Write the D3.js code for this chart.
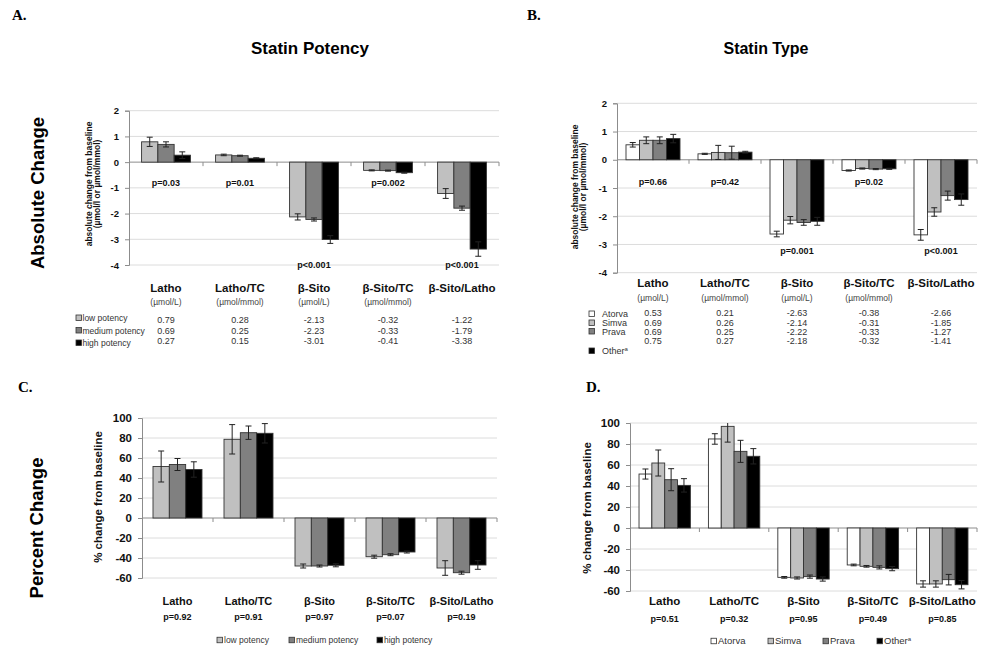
<!DOCTYPE html>
<html>
<head>
<script src="https://d3js.org/d3.v7.min.js"></script>
<style>
  body { margin: 0; background: #fff; }
  svg { font-family: "Liberation Sans", Arial, sans-serif; }
</style>
</head>
<body>
<div id="fig"></div>
<script>
// ---- data ----
const categories = ["Latho", "Latho/TC", "β-Sito", "β-Sito/TC", "β-Sito/Latho"];
const units = ["(µmol/L)", "(µmol/mmol)", "(µmol/L)", "(µmol/mmol)", ""];
const yTicksAbs = [-4, -3, -2, -1, 0, 1, 2];
const yTicksPct = [-60, -40, -20, 0, 20, 40, 60, 80, 100];

const potencyGroups = ["low potency", "medium potency", "high potency"];
const potencyColors = ["#c0c0c0", "#808080", "#000000"];
const typeGroups = ["Atorva", "Simva", "Prava", "Other"];
const typeColors = ["#ffffff", "#c0c0c0", "#808080", "#000000"];

// A. absolute change, statin potency (rows = group, columns = category)
const absPotency = [
  [0.79, 0.28, -2.13, -0.32, -1.22],
  [0.69, 0.25, -2.23, -0.33, -1.79],
  [0.27, 0.15, -3.01, -0.41, -3.38]
];
const absPotencyErr = [
  [0.18, 0.03, 0.12, 0.02, 0.19],
  [0.10, 0.02, 0.06, 0.02, 0.08],
  [0.13, 0.02, 0.15, 0.02, 0.28]
];
const absPotencyP = ["p=0.03", "p=0.01", "p<0.001", "p=0.002", "p<0.001"];

// B. absolute change, statin type
const absType = [
  [0.53, 0.21, -2.63, -0.38, -2.66],
  [0.69, 0.26, -2.14, -0.31, -1.85],
  [0.69, 0.25, -2.22, -0.33, -1.27],
  [0.75, 0.27, -2.18, -0.32, -1.41]
];
const absTypeErr = [
  [0.08, 0.02, 0.10, 0.02, 0.19],
  [0.12, 0.25, 0.13, 0.02, 0.15],
  [0.12, 0.23, 0.10, 0.02, 0.16],
  [0.15, 0.03, 0.14, 0.02, 0.20]
];
const absTypeP = ["p=0.66", "p=0.42", "p=0.001", "p=0.02", "p<0.001"];

// C. percent change, statin potency
const pctPotency = [
  [51.5, 78.7, -48.0, -38.7, -50.0],
  [53.5, 85.3, -48.0, -36.7, -54.7],
  [48.5, 84.7, -47.3, -34.0, -47.0]
];
const pctPotencyErr = [
  [15.5, 14.7, 2.0, 1.5, 7.3],
  [6.0, 6.7, 1.0, 1.0, 1.5],
  [7.7, 9.7, 1.5, 1.0, 4.3]
];
const pctPotencyP = ["p=0.92", "p=0.91", "p=0.97", "p=0.07", "p=0.19"];

// D. percent change, statin type
const pctType = [
  [51.4, 84.8, -47.0, -35.2, -53.3],
  [61.9, 96.8, -47.6, -36.5, -53.3],
  [46.0, 73.0, -46.3, -37.5, -49.2],
  [40.6, 68.3, -48.6, -38.7, -54.0]
];
const pctTypeErr = [
  [4.8, 5.0, 0.8, 0.8, 3.0],
  [12.4, 15.0, 1.0, 0.8, 3.0],
  [10.5, 10.5, 1.5, 1.5, 5.0],
  [6.4, 7.3, 2.0, 2.0, 4.0]
];
const pctTypeP = ["p=0.51", "p=0.32", "p=0.95", "p=0.49", "p=0.85"];

// ---- drawing ----
const svg = d3.select("#fig").append("svg")
  .attr("width", 981)
  .attr("height", 651);

function drawPanel(o) {
  const g = svg.append("g");
  const x = d3.scaleBand().domain(categories).range([o.left, o.right])
    .paddingInner(o.pad).paddingOuter(o.pad / 2);
  const xs = d3.scaleBand().domain(o.groups).range([0, x.bandwidth()]);
  const y = d3.scaleLinear().domain(o.domain).range([o.bottom, o.top]);

  // gridlines
  g.selectAll("line.grid").data(o.ticks.filter(t => t !== 0)).join("line")
    .attr("class", "grid")
    .attr("x1", o.left).attr("x2", o.right)
    .attr("y1", d => y(d)).attr("y2", d => y(d))
    .attr("stroke", "#dcdcdc");

  // y axis
  const ya = g.append("g")
    .attr("transform", `translate(${o.left},0)`)
    .call(d3.axisLeft(y).tickValues(o.ticks).tickSize(4).tickPadding(o.tickPad).tickFormat(d => d));
  ya.attr("font-family", null);
  ya.select(".domain").attr("stroke", "#8c8c8c");
  ya.selectAll(".tick line").attr("stroke", "#8c8c8c");
  ya.selectAll(".tick text")
    .attr("font-size", o.tickFont)
    .attr("font-weight", "bold")
    .attr("fill", "#111");

  // zero line with small ticks between categories
  g.append("line")
    .attr("x1", o.left).attr("x2", o.right)
    .attr("y1", y(0)).attr("y2", y(0))
    .attr("stroke", "#8c8c8c");
  g.selectAll("line.xtick").data(d3.range(1, categories.length + 1)).join("line")
    .attr("class", "xtick")
    .attr("x1", i => o.left + i * x.step()).attr("x2", i => o.left + i * x.step())
    .attr("y1", y(0)).attr("y2", y(0) + 4)
    .attr("stroke", "#8c8c8c");

  // bars
  const cells = [];
  o.values.forEach((row, gi) => row.forEach((v, ci) => cells.push({
    cat: categories[ci], grp: o.groups[gi], v: v, e: o.errs[gi][ci], c: o.colors[gi]
  })));

  g.selectAll("rect.bar").data(cells).join("rect")
    .attr("class", "bar")
    .attr("x", d => x(d.cat) + xs(d.grp))
    .attr("width", xs.bandwidth())
    .attr("y", d => y(Math.max(0, d.v)))
    .attr("height", d => Math.abs(y(d.v) - y(0)))
    .attr("fill", d => d.c)
    .attr("stroke", "#333")
    .attr("stroke-width", 0.9);

  // error bars (clipped to the plot range)
  g.selectAll("g.err").data(cells).join("g")
    .attr("class", "err")
    .each(function (d) {
      const s = d3.select(this);
      const cx = x(d.cat) + xs(d.grp) + xs.bandwidth() / 2;
      const hi = d.v + d.e, lo = d.v - d.e;
      const hiC = Math.min(hi, o.domain[1]), loC = Math.max(lo, o.domain[0]);
      s.append("line").attr("x1", cx).attr("x2", cx)
        .attr("y1", y(loC)).attr("y2", y(hiC))
        .attr("stroke", "#222").attr("stroke-width", 1);
      [hi, lo].forEach(t => {
        if (t <= o.domain[1] && t >= o.domain[0]) {
          s.append("line").attr("x1", cx - 3).attr("x2", cx + 3)
            .attr("y1", y(t)).attr("y2", y(t))
            .attr("stroke", "#222").attr("stroke-width", 1);
        }
      });
    });

  // category labels
  const cx = c => x(c) + x.bandwidth() / 2;
  g.selectAll("text.cat").data(categories).join("text")
    .attr("class", "cat")
    .attr("x", cx).attr("y", o.catY)
    .attr("text-anchor", "middle")
    .attr("font-size", o.catFont)
    .attr("font-weight", "bold")
    .attr("fill", "#111")
    .text(d => d);

  if (o.unitY) {
    g.selectAll("text.unit").data(categories).join("text")
      .attr("class", "unit")
      .attr("x", cx).attr("y", o.unitY)
      .attr("text-anchor", "middle")
      .attr("font-size", 8.5)
      .attr("fill", "#444")
      .text((d, i) => units[i]);
  }

  // p-values
  g.selectAll("text.p").data(categories).join("text")
    .attr("class", "p")
    .attr("x", cx)
    .attr("y", (d, i) => o.pY(i, y))
    .attr("text-anchor", "middle")
    .attr("font-size", 9)
    .attr("font-weight", "bold")
    .attr("fill", "#111")
    .text((d, i) => o.pvals[i]);

  // y title
  const yt = g.append("text")
    .attr("transform", `translate(${o.yTitleX},${o.yTitleY}) rotate(-90)`)
    .attr("text-anchor", "middle")
    .attr("font-size", o.yTitleFont)
    .attr("font-weight", "bold")
    .attr("fill", "#111");
  o.yTitle.forEach((t, i) => {
    yt.append("tspan").attr("x", 0).attr("dy", i === 0 ? 0 : o.yTitleFont * 0.95).text(t);
  });

  return { x: x, y: y, cx: cx };
}

// lowest point of each category (value minus error), used to place p-values
function lowest(values, errs, ci) {
  return d3.min(values.map((row, gi) => Math.min(0, row[ci] - errs[gi][ci])));
}

// Panel A
const A = drawPanel({
  left: 129, right: 499, top: 110.7, bottom: 265,
  domain: [-4, 2], ticks: yTicksAbs, tickFont: 9.5, tickPad: 6,
  pad: 0.34, groups: potencyGroups, colors: potencyColors,
  values: absPotency, errs: absPotencyErr, pvals: absPotencyP,
  pY: (i, y) => (lowest(absPotency, absPotencyErr, i) < -2 ? y(-4) : y(-0.8)) + 3,
  catY: 292, catFont: 11.5, unitY: 305,
  yTitle: ["absolute change from baseline", "(µmol/l or µmol/mmol)"],
  yTitleX: 92, yTitleY: 184, yTitleFont: 8.5
});

// Panel B
const B = drawPanel({
  left: 617, right: 977, top: 103.3, bottom: 272.7,
  domain: [-4, 2], ticks: yTicksAbs, tickFont: 9.5, tickPad: 6,
  pad: 0.25, groups: typeGroups, colors: typeColors,
  values: absType, errs: absTypeErr, pvals: absTypeP,
  pY: (i, y) => (lowest(absType, absTypeErr, i) < -2 ? y(-3.22) : y(-0.77)) + 3,
  catY: 287, catFont: 11.5, unitY: 301,
  yTitle: ["absolute change from baseline", "(µmol/l or µmol/mmol)"],
  yTitleX: 578, yTitleY: 187, yTitleFont: 8.5
});

// Panel C
const C = drawPanel({
  left: 142, right: 497, top: 418, bottom: 578,
  domain: [-60, 100], ticks: yTicksPct, tickFont: 11.5, tickPad: 6,
  pad: 0.31, groups: potencyGroups, colors: potencyColors,
  values: pctPotency, errs: pctPotencyErr, pvals: pctPotencyP,
  pY: () => 620,
  catY: 605, catFont: 11,
  yTitle: ["% change from baseline"],
  yTitleX: 102, yTitleY: 497, yTitleFont: 11.5
});

// Panel D
const D = drawPanel({
  left: 630, right: 977, top: 423, bottom: 591,
  domain: [-60, 100], ticks: yTicksPct, tickFont: 11.5, tickPad: 6,
  pad: 0.26, groups: typeGroups, colors: typeColors,
  values: pctType, errs: pctTypeErr, pvals: pctTypeP,
  pY: () => 622,
  catY: 605, catFont: 11.5,
  yTitle: ["% change from baseline"],
  yTitleX: 591, yTitleY: 508, yTitleFont: 11.5
});

// ---- tables under A and B ----
function table(o) {
  const g = svg.append("g");
  o.groups.forEach((grp, gi) => {
    g.append("rect")
      .attr("x", o.markX).attr("y", o.legY[gi] - 3)
      .attr("width", 5.5).attr("height", 5.5)
      .attr("fill", o.colors[gi]).attr("stroke", "#333").attr("stroke-width", 0.8);
    const t = g.append("text")
      .attr("x", o.markX + o.textDx).attr("y", o.legY[gi] + 3)
      .attr("font-size", o.legFont).attr("fill", "#333")
      .text(grp);
    if (grp === "Other") t.append("tspan").attr("dy", -3).attr("font-size", 6).text("a");
    o.values[gi].forEach((v, ci) => {
      g.append("text")
        .attr("x", o.cx(categories[ci])).attr("y", o.valY[gi] + 3)
        .attr("text-anchor", "middle")
        .attr("font-size", o.valFont).attr("fill", "#333")
        .text(v.toFixed(2));
    });
  });
}

table({
  groups: potencyGroups, colors: potencyColors, values: absPotency, cx: A.cx,
  markX: 76, textDx: 6.5, legY: [318, 330.5, 343], valY: [320, 330.5, 341],
  legFont: 8.5, valFont: 9
});
table({
  groups: typeGroups, colors: typeColors, values: absType, cx: B.cx,
  markX: 589, textDx: 13, legY: [314, 323, 331.5, 351], valY: [313, 322.5, 332, 341],
  legFont: 9, valFont: 9
});

// ---- legends under C and D ----
function legend(groups, colors, xs, yc, font) {
  const g = svg.append("g");
  groups.forEach((grp, i) => {
    g.append("rect")
      .attr("x", xs[i]).attr("y", yc - 2.75)
      .attr("width", 5.5).attr("height", 5.5)
      .attr("fill", colors[i]).attr("stroke", "#333").attr("stroke-width", 0.8);
    const t = g.append("text")
      .attr("x", xs[i] + 7).attr("y", yc + 3)
      .attr("font-size", font).attr("fill", "#333")
      .text(grp);
    if (grp === "Other") t.append("tspan").attr("dy", -3).attr("font-size", 6).text("a");
  });
}
legend(potencyGroups, potencyColors, [217, 289, 377], 640, 8.5);
legend(typeGroups, typeColors, [711, 768, 823, 877], 641, 9.5);

// ---- titles and panel letters ----
const letter = (t, x, y) => svg.append("text")
  .attr("x", x).attr("y", y)
  .attr("font-family", "'Liberation Serif', 'Times New Roman', serif")
  .attr("font-size", 15).attr("font-weight", "bold")
  .text(t);
letter("A.", 12, 20);
letter("B.", 527, 20);
letter("C.", 18, 392);
letter("D.", 586, 392);

svg.append("text").attr("x", 310).attr("y", 54)
  .attr("text-anchor", "middle").attr("font-size", 17).attr("font-weight", "bold")
  .text("Statin Potency");
svg.append("text").attr("x", 766).attr("y", 54)
  .attr("text-anchor", "middle").attr("font-size", 16).attr("font-weight", "bold")
  .text("Statin Type");

svg.append("text").attr("transform", "translate(44,193) rotate(-90)")
  .attr("text-anchor", "middle").attr("font-size", 18.5).attr("font-weight", "bold")
  .text("Absolute Change");
svg.append("text").attr("transform", "translate(43,528) rotate(-90)")
  .attr("text-anchor", "middle").attr("font-size", 18.5).attr("font-weight", "bold")
  .text("Percent Change");
</script>
</body>
</html>
